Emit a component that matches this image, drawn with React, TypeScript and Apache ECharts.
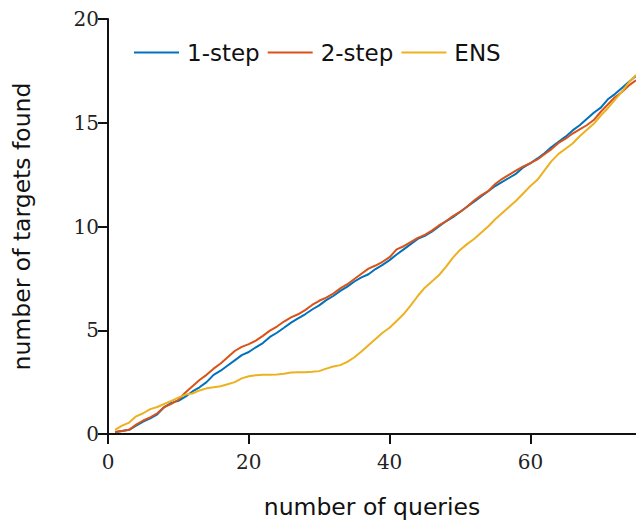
import React, { useEffect, useRef } from "react";
import * as echarts from "echarts";

const queries: number[] = Array.from({ length: 75 }, (_, i) => i + 1);

const oneStep: number[] = [
  0.1, 0.15, 0.2, 0.4, 0.6, 0.75, 0.95, 1.3, 1.5, 1.6,
  1.8, 2.05, 2.25, 2.5, 2.85, 3.05, 3.3, 3.55, 3.8, 3.95,
  4.18, 4.38, 4.68, 4.88, 5.12, 5.37, 5.57, 5.77, 6.0, 6.2,
  6.45, 6.65, 6.9, 7.1, 7.35, 7.55, 7.7, 7.95, 8.15, 8.38,
  8.65, 8.9, 9.15, 9.4, 9.55, 9.75, 10.0, 10.25, 10.45, 10.7,
  10.95, 11.2, 11.45, 11.7, 11.95, 12.15, 12.35, 12.55, 12.85, 13.05,
  13.28, 13.53, 13.83, 14.08, 14.33, 14.63, 14.88, 15.18, 15.48, 15.73,
  16.13, 16.38, 16.68, 16.98, 17.25,
];

const twoStep: number[] = [
  0.1, 0.15, 0.2, 0.45, 0.65, 0.8, 1.0, 1.3, 1.45, 1.65,
  2.0, 2.3, 2.6, 2.85, 3.15, 3.4, 3.7, 4.0, 4.2, 4.33,
  4.5, 4.73, 4.98, 5.18, 5.42, 5.62, 5.77, 5.97, 6.22, 6.42,
  6.57, 6.77, 7.02, 7.22, 7.47, 7.72, 7.97, 8.12, 8.3, 8.52,
  8.9, 9.05, 9.25, 9.45, 9.6, 9.8, 10.05, 10.25, 10.5, 10.7,
  10.95, 11.25, 11.5, 11.7, 12.05, 12.3, 12.5, 12.7, 12.9, 13.05,
  13.23, 13.48, 13.73, 14.03, 14.23, 14.48, 14.68, 14.88, 15.13, 15.53,
  15.88, 16.23, 16.48, 16.8, 17.05,
];

const ens: number[] = [
  0.2, 0.4, 0.55, 0.85, 1.0, 1.2, 1.3, 1.45, 1.6, 1.75,
  1.9, 1.95, 2.1, 2.2, 2.25, 2.3, 2.4, 2.5, 2.68, 2.78,
  2.83, 2.85, 2.85, 2.87, 2.9, 2.96, 2.98, 2.98, 3.0, 3.03,
  3.15, 3.25, 3.32, 3.48, 3.7, 3.98, 4.28, 4.58, 4.88, 5.12,
  5.45, 5.78, 6.2, 6.65, 7.05, 7.35, 7.65, 8.05, 8.5, 8.87,
  9.15, 9.4, 9.7, 10.0, 10.35, 10.65, 10.95, 11.25, 11.6, 11.95,
  12.25, 12.7, 13.15, 13.5, 13.75, 14.0, 14.35, 14.65, 14.95, 15.35,
  15.7, 16.1, 16.5, 16.95, 17.3,
];

const seriesNames = ["1-step", "2-step", "ENS"];
const seriesColors = ["#0072BD", "#D95319", "#EDB120"];

const SANS = "'DejaVu Sans', sans-serif";
const SERIF = "'DejaVu Serif', serif";

export default function App() {
  const ref = useRef<HTMLDivElement>(null);

  useEffect(() => {
    if (!ref.current) return;
    const chart = echarts.init(ref.current, undefined, { renderer: "svg" });
    const dataSets = [oneStep, twoStep, ens];
    chart.setOption({
      animation: false,
      backgroundColor: "#ffffff",
      grid: { left: 108, right: 0, top: 19, bottom: 90, containLabel: false },
      legend: {
        left: 134,
        top: 41,
        padding: 0,
        icon: "rect",
        itemWidth: 45,
        itemHeight: 2,
        itemGap: 8,
        data: seriesNames,
        textStyle: {
          fontFamily: SANS,
          fontSize: 23,
          color: "#111",
          padding: [0, 0, 0, 3],
        },
      },
      xAxis: {
        type: "value",
        min: 0,
        max: 75,
        interval: 20,
        name: "number of queries",
        nameLocation: "middle",
        nameGap: 61,
        nameTextStyle: { fontFamily: SANS, fontSize: 23.5, color: "#111" },
        axisLine: { show: true, lineStyle: { color: "#111", width: 2 } },
        axisTick: { show: true, length: 10, lineStyle: { color: "#111", width: 2 } },
        axisLabel: {
          fontFamily: SERIF,
          fontSize: 20,
          color: "#222",
          margin: 18,
          showMaxLabel: false,
        },
        splitLine: { show: false },
      },
      yAxis: {
        type: "value",
        min: 0,
        max: 20,
        interval: 5,
        name: "number of targets found",
        nameLocation: "middle",
        nameGap: 74,
        nameTextStyle: { fontFamily: SANS, fontSize: 23.5, color: "#111" },
        axisLine: { show: true, lineStyle: { color: "#111", width: 2 } },
        axisTick: { show: true, length: 10, lineStyle: { color: "#111", width: 2 } },
        axisLabel: { fontFamily: SERIF, fontSize: 20, color: "#222", margin: 9 },
        splitLine: { show: false },
      },
      series: dataSets.map((d, i) => ({
        name: seriesNames[i],
        type: "line",
        data: d.map((v, j) => [queries[j], v]),
        symbol: "none",
        showSymbol: false,
        color: seriesColors[i],
        lineStyle: { color: seriesColors[i], width: 2 },
        clip: true,
      })),
    });
    return () => chart.dispose();
  }, []);

  return (
    <div
      ref={ref}
      style={{ position: "fixed", left: 0, top: 0, width: 636, height: 524 }}
    />
  );
}
